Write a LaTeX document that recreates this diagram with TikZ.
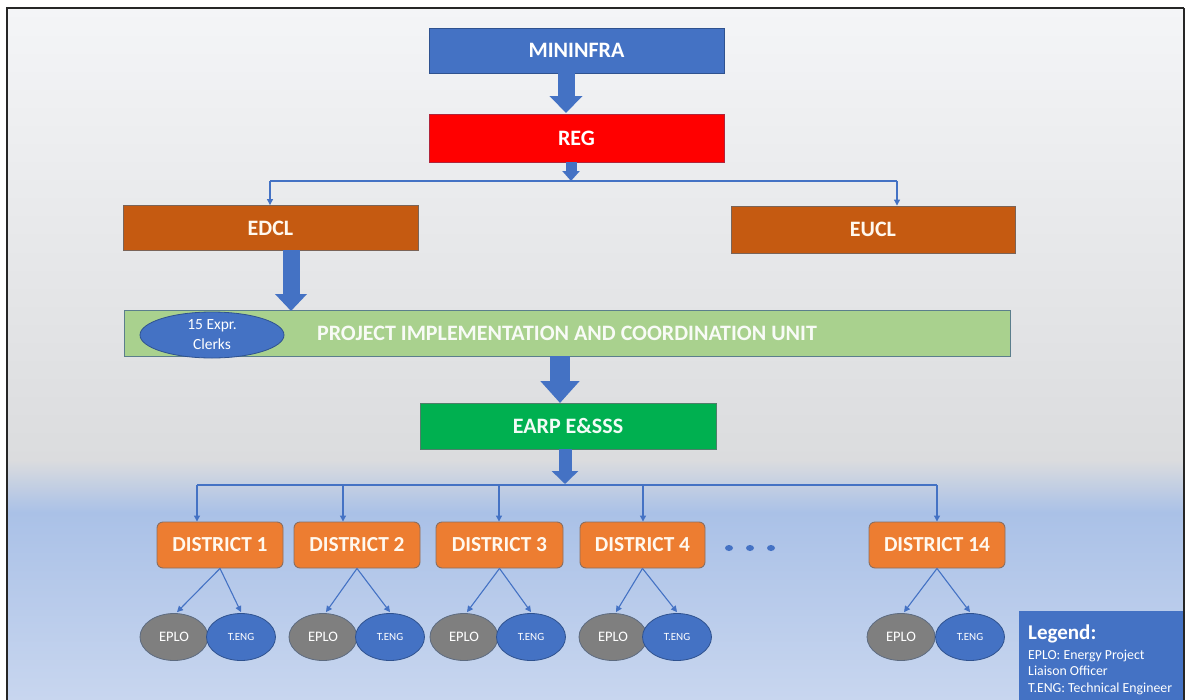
\documentclass[tikz,border=0pt]{standalone}
\usepackage{fontspec}
\setmainfont{Carlito}
\usetikzlibrary{arrows.meta,shapes.geometric}
\definecolor{bgA}{HTML}{F4F5F7}
\definecolor{bgB}{HTML}{DBDCDE}
\definecolor{bgC}{HTML}{AAC1E7}
\definecolor{bgD}{HTML}{C8D6EF}
\definecolor{oblue}{HTML}{4472C4}
\definecolor{obluedk}{HTML}{2F528F}
\definecolor{ored}{HTML}{FF0000}
\definecolor{oreddk}{HTML}{B0243A}
\definecolor{obrown}{HTML}{C55A11}
\definecolor{obrowndk}{HTML}{7A6458}
\definecolor{olgreen}{HTML}{A9D18E}
\definecolor{olgreendk}{HTML}{5B7E8C}
\definecolor{ogreen}{HTML}{00B050}
\definecolor{ogreendk}{HTML}{4F7F6A}
\definecolor{oorange}{HTML}{ED7D31}
\definecolor{oorangedk}{HTML}{8A6E60}
\definecolor{ogrey}{HTML}{7F7F7F}
\definecolor{ogreydk}{HTML}{5D6B80}
\definecolor{cream}{HTML}{FFF8EE}
\begin{document}
\begin{tikzpicture}[x=1pt,y=-1pt,
  bigfont/.style={font=\bfseries\fontsize{22}{26}\selectfont},
  sqbox/.style={rectangle,inner sep=0pt,line width=0.9pt,bigfont,text=white},
  distbox/.style={rectangle,rounded corners=6pt,inner sep=0pt,line width=0.9pt,
     fill=oorange,draw=oorangedk,font=\bfseries\fontsize{21.4}{25}\selectfont,text=cream,minimum height=46pt},
  eplo/.style={ellipse,inner sep=0pt,minimum width=68pt,minimum height=47pt,
     fill=ogrey,draw=ogreydk,line width=0.8pt,text=white,font=\fontsize{14.5}{17}\selectfont},
  teng/.style={ellipse,inner sep=0pt,minimum width=69pt,minimum height=47pt,
     fill=oblue,draw=obluedk,line width=0.8pt,text=white,font=\fontsize{11}{13}\selectfont},
  thinarr/.style={draw=oblue,line width=1.1pt,-{Triangle[length=6pt,width=6pt]}},
  thinln/.style={draw=oblue,line width=1.1pt},
  blockarr/.style n args={3}{draw=oblue,line width=#1,-{Triangle[length=#3,width=#2]}},
  dot/.style={ellipse,fill=oblue,inner sep=0pt,minimum width=8pt,minimum height=6pt},
  legtext/.style={anchor=base west,inner sep=0pt,text=white,font=\fontsize{13.8}{16}\selectfont}
]
\useasboundingbox (0,0) rectangle (1186,699);
\fill[white] (0,0) rectangle (1186,699);
\shade[top color=bgA,bottom color=bgB] (7,8) rectangle (1184,460);
\shade[top color=bgB,bottom color=bgC] (7,460) rectangle (1184,512);
\shade[top color=bgC,bottom color=bgD] (7,512) rectangle (1184,700);
\draw[line width=2pt,black!85] (7,702) -- (7,8) -- (1184,8);

% top boxes
\node[sqbox,fill=oblue,draw=obluedk,minimum width=295pt,minimum height=45pt] (mininfra) at (576.5,50.5) {MININFRA};
\node[sqbox,fill=ored,draw=oreddk,minimum width=295pt,minimum height=48pt] (reg) at (576.5,138) {REG};
\node[sqbox,fill=obrown,draw=obrowndk,text=cream,minimum width=295pt,minimum height=45pt] (edcl) at (270.5,228) {EDCL};
\node[sqbox,fill=obrown,draw=obrowndk,text=cream,minimum width=284pt,minimum height=47pt] (eucl) at (873,229.5) {EUCL};
\node[sqbox,fill=olgreen,draw=olgreendk,text=white!92!olgreen,minimum width=886pt,minimum height=46pt,
  font=\bfseries\fontsize{22}{26}\selectfont] (picu) at (567,333.5) {PROJECT IMPLEMENTATION AND COORDINATION UNIT};
\node[ellipse,inner sep=0pt,minimum width=144pt,minimum height=46pt,fill=oblue,draw=obluedk,line width=0.8pt,
  text=white,align=center,font=\fontsize{15.5}{20}\selectfont] (clerks) at (212,335) {15 Expr.\\Clerks};
\node[sqbox,fill=ogreen,draw=ogreendk,text=white!95!ogreen,minimum width=296pt,minimum height=46pt] (earp) at (568,426) {EARP E\&SSS};

% block arrows
\draw[blockarr={17pt}{32pt}{17pt}] (mininfra.south -| 566,0) -- (566,113);
\draw[blockarr={11pt}{17pt}{10pt}] (571,162) coordinate (regout) -- (571,181) coordinate (regbus);
\draw[blockarr={17pt}{31pt}{17pt}] (291,250) -- (291,311);
\draw[blockarr={20pt}{38pt}{22pt}] (560,356) -- (560,403);
\draw[blockarr={13pt}{26pt}{13pt}] (565,449) -- (565,484);

% upper bus
\coordinate (ubl) at (270,181);
\coordinate (ubr) at (897,181);
\draw[thinln] (ubl) -- (ubr);
\draw[thinarr] (ubl) -- (ubl |- edcl.north);
\draw[thinarr] (ubr) -- (ubr |- eucl.north);

% districts
\node[distbox,minimum width=126pt] (d1) at (220,545) {DISTRICT 1};
\node[distbox,minimum width=126pt] (d2) at (357,545) {DISTRICT 2};
\node[distbox,minimum width=127pt] (d3) at (499.5,545) {DISTRICT 3};
\node[distbox,minimum width=125pt] (d4) at (642.5,545) {DISTRICT 4};
\node[distbox,minimum width=136pt] (d14) at (937,545) {DISTRICT 14};

\node[dot] (dt1) at (729,548) {};
\node[dot] (dt2) at (750,548) {};
\node[dot] (dt3) at (771,548) {};

% lower bus
\coordinate (b1) at (197,485);
\coordinate (b2) at (343,485);
\coordinate (b3) at (499,485);
\coordinate (b4) at (643,485);
\coordinate (b14) at (937,485);
\draw[thinln] (b1) -- (b14);
\draw[thinarr] (b1) -- (b1 |- d1.north);
\draw[thinarr] (b2) -- (b2 |- d2.north);
\draw[thinarr] (b3) -- (b3 |- d3.north);
\draw[thinarr] (b4) -- (b4 |- d4.north);
\draw[thinarr] (b14) -- (b14 |- d14.north);

% ellipses
\node[eplo] (e1) at (174,637) {EPLO};
\node[teng] (t1) at (241,637) {T.ENG};
\node[eplo] (e2) at (323,637) {EPLO};
\node[teng] (t2) at (390,637) {T.ENG};
\node[eplo] (e3) at (464,637) {EPLO};
\node[teng] (t3) at (531,637) {T.ENG};
\node[eplo] (e4) at (613,637) {EPLO};
\node[teng] (t4) at (677,637) {T.ENG};
\node[eplo] (e14) at (901,637) {EPLO};
\node[teng] (t14) at (970,637) {T.ENG};

\foreach \d/\e/\t in {d1/e1/t1,d2/e2/t2,d3/e3/t3,d4/e4/t4,d14/e14/t14}{
  \draw[thinarr] (\d.south) -- ([xshift=3pt,yshift=1pt]\e.north);
  \draw[thinarr] (\d.south) -- ([yshift=1pt]\t.north);
}

% legend
\node[rectangle,fill=oblue,inner sep=0pt,minimum width=165pt,minimum height=92pt,anchor=north west] (legbox) at (1019,611) {};
\node[anchor=base west,inner sep=0pt,text=white,font=\bfseries\fontsize{21}{24}\selectfont] (leg0) at (1028,639) {Legend:};
\node[legtext] (leg1) at (1028,659) {EPLO: Energy Project};
\node[legtext] (leg2) at (1028,675.5) {Liaison Officer};
\node[legtext] (leg3) at (1028,692) {T.ENG: Technical Engineer};
\draw[line width=2pt,black!85] (1184,8) -- (1184,702);
\end{tikzpicture}
\end{document}
